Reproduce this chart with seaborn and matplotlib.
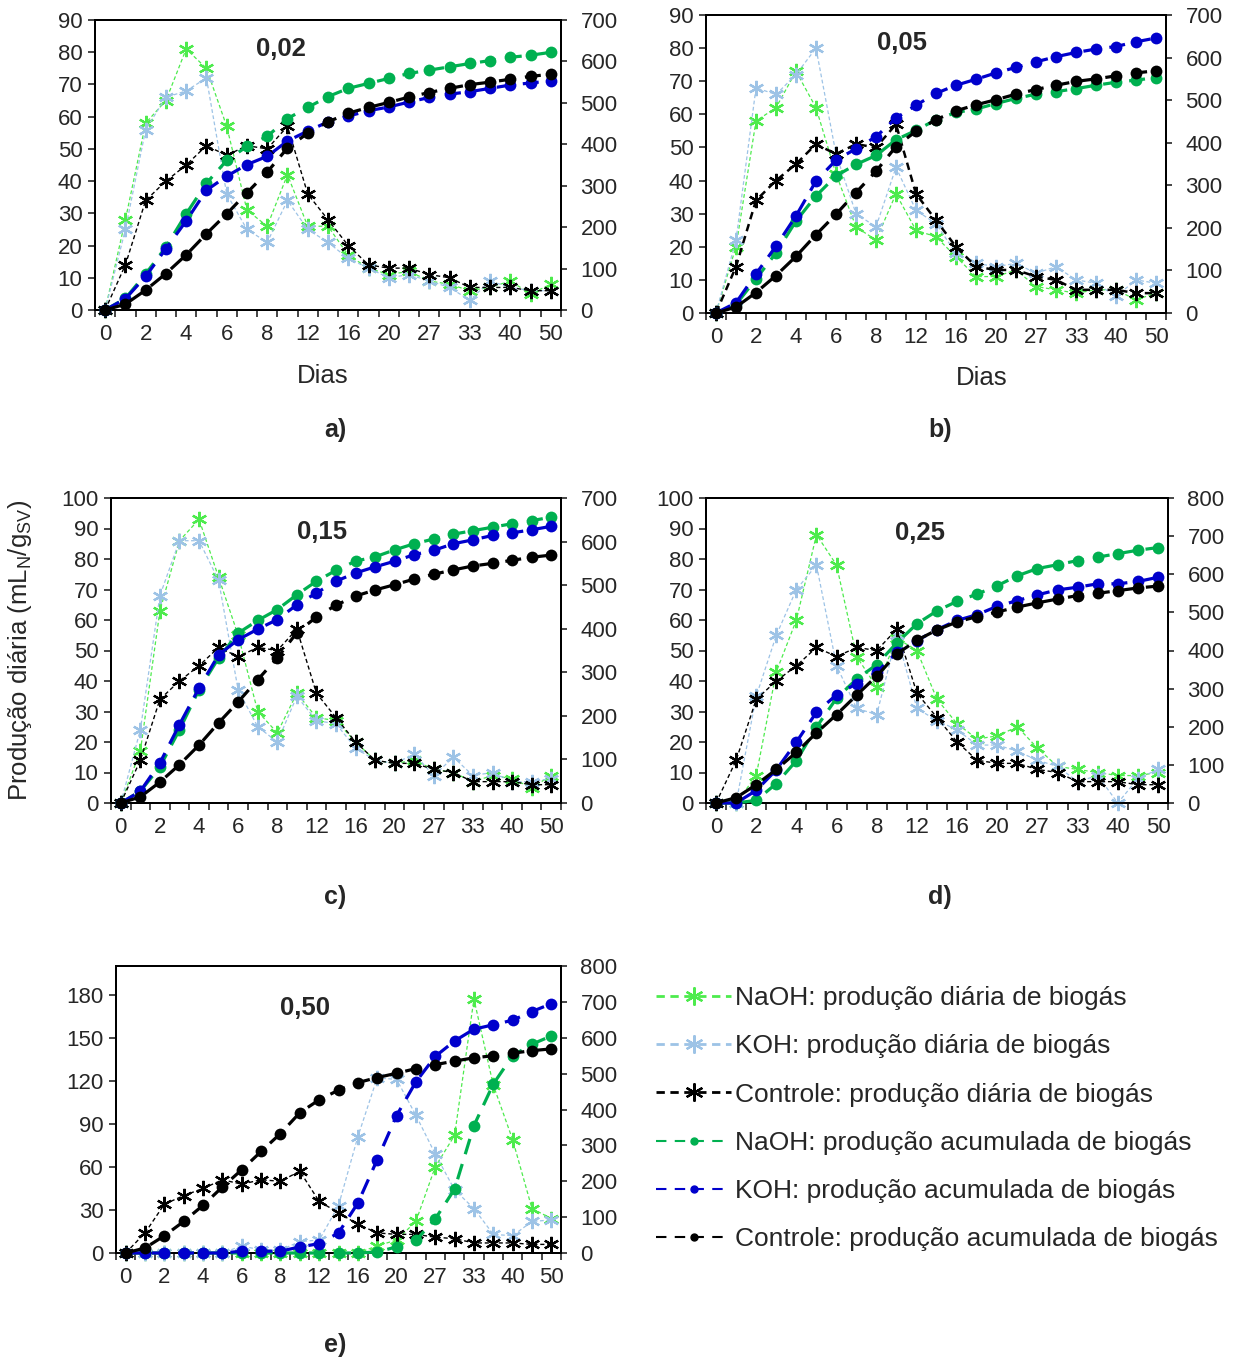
import numpy as np
import pandas as pd
import matplotlib
matplotlib.use("Agg")
import matplotlib.pyplot as plt
from matplotlib.lines import Line2D
import seaborn as sns

sns.set_style("ticks")
plt.rcParams['font.family'] = ['Liberation Sans', 'DejaVu Sans']
plt.rcParams['mathtext.fontset'] = 'custom'
plt.rcParams['mathtext.rm'] = 'Liberation Sans'

# ---------------- data ----------------
days = ['0', '1', '2', '3', '4', '5', '6', '7', '8', '10', '12', '14', '16', '18',
        '20', '23', '27', '30', '33', '36', '40', '45', '50']

ctrl_daily = [0, 14, 34, 40, 45, 51, 48, 51, 50, 57, 36, 28, 20, 14, 13, 13, 11, 10, 7, 7, 7, 6, 6]
ctrl_cum = [0, 14, 48, 88, 133, 184, 232, 283, 333, 391, 427, 454, 475, 489, 501, 514, 525, 535, 544, 550, 557, 564, 569]

naoh_daily_a = [0, 28, 58, 65, 81, 75, 57, 31, 26, 42, 26, 26, 17, 13, 11, 12, 9, 8, 6, 7, 9, 5, 8]
koh_daily_a = [0, 25, 56, 66, 68, 72, 36, 25, 21, 34, 25, 21, 16, 13, 10, 11, 9, 7, 3, 9, 7, 6, 6]
naoh_cum_a = [0, 28, 87, 152, 232, 306, 361, 395, 419, 462, 489, 515, 535, 547, 559, 571, 579, 587, 595, 602, 610, 615, 622]
koh_cum_a = [0, 27, 81, 148, 215, 289, 323, 351, 371, 408, 432, 454, 468, 481, 490, 502, 513, 521, 527, 535, 543, 548, 553]

naoh_daily_b = [0, 20, 58, 62, 73, 62, 42, 26, 22, 36, 25, 23, 17, 11, 11, 13, 8, 7, 6, 7, 7, 4, 6]
koh_daily_b = [0, 22, 68, 66, 72, 80, 48, 30, 26, 44, 31, 27, 18, 15, 14, 15, 12, 14, 10, 9, 5, 10, 9]
naoh_cum_b = [0, 20, 80, 141, 216, 275, 322, 349, 370, 407, 429, 454, 471, 479, 492, 504, 514, 520, 527, 535, 542, 547, 553]
koh_cum_b = [0, 24, 92, 157, 228, 310, 359, 386, 414, 458, 488, 516, 535, 549, 564, 577, 590, 602, 612, 620, 626, 637, 646]

naoh_daily_c = [0, 17, 63, 86, 93, 74, 55, 30, 23, 36, 28, 27, 20, 14, 13, 14, 11, 10, 7, 9, 8, 5, 9]
koh_daily_c = [0, 24, 68, 86, 86, 73, 37, 25, 20, 35, 27, 26, 18, 14, 13, 16, 9, 15, 9, 10, 7, 7, 8]
naoh_cum_c = [0, 27, 83, 168, 260, 333, 390, 419, 444, 478, 509, 534, 555, 565, 581, 595, 606, 617, 625, 633, 641, 648, 656]
koh_cum_c = [0, 27, 92, 180, 264, 340, 375, 399, 421, 455, 482, 509, 528, 542, 555, 570, 580, 595, 604, 614, 620, 627, 635]

naoh_daily_d = [0, 0, 9, 43, 60, 88, 78, 48, 38, 54, 50, 34, 26, 21, 22, 25, 18, 12, 11, 10, 9, 9, 10]
koh_daily_d = [0, 0, 35, 55, 70, 78, 45, 31, 29, 55, 31, 27, 24, 19, 19, 17, 14, 12, 7, 9, 0, 8, 11]
naoh_cum_d = [0, 0, 7, 51, 111, 199, 275, 325, 363, 420, 470, 504, 529, 548, 570, 596, 615, 625, 636, 645, 654, 663, 670]
koh_cum_d = [0, 0, 33, 87, 160, 238, 284, 313, 343, 395, 426, 455, 479, 494, 516, 531, 546, 559, 566, 575, 575, 581, 592]

naoh_daily_e = [0, 0, 0, 0, 0, 0, 0, 0, 0, 0, 0, 0, 0, 5, 9, 22, 60, 82, 177, 117, 79, 31, 24]
koh_daily_e = [0, 0, 0, 0, 0, 0, 5, 2, 2, 8, 9, 33, 81, 122, 121, 96, 69, 44, 31, 13, 12, 22, 23]
naoh_cum_e = [0, 0, 0, 0, 0, 0, 0, 0, 0, 0, 0, 0, 0, 3, 17, 35, 95, 178, 355, 471, 550, 582, 605]
koh_cum_e = [0, 0, 0, 0, 0, 0, 5, 5, 5, 17, 26, 56, 139, 260, 383, 477, 548, 591, 624, 636, 649, 673, 695]

panel_titles = ['0,02', '0,05', '0,15', '0,25', '0,50']
panel_letters = ['a)', 'b)', 'c)', 'd)', 'e)']

legend_labels = ['NaOH: produção diária de biogás',
                 'KOH: produção diária de biogás',
                 'Controle: produção diária de biogás',
                 'NaOH: produção acumulada de biogás',
                 'KOH: produção acumulada de biogás',
                 'Controle: produção acumulada de biogás']

# ---------------- styles ----------------
C_NAOH_D = '#4DEB4D'
C_KOH_D = '#9DC3E6'
C_CTRL = '#000000'
C_NAOH_C = '#00B050'
C_KOH_C = '#0000CC'
STAR = (6, 2, 0)
TICK_FS = 16

W, H = 1234, 1360
fig = plt.figure(figsize=(W / 100, H / 100), dpi=100)


def fbox(l, r, t, b):
    return [l / W, 1 - b / H, (r - l) / W, (b - t) / H]


boxes = [fbox(95, 561, 20, 310), fbox(706, 1166, 15, 313), fbox(111, 561, 498, 803),
         fbox(706, 1168, 498, 803), fbox(116, 561, 966, 1253)]
left_lims = [(90, 90, 10), (90, 90, 10), (100, 100, 10), (100, 100, 10), (200, 180, 30)]
right_lims = [(700, 100), (700, 100), (700, 100), (800, 100), (800, 100)]
title_pos = [(0.40, 0.90), (0.426, 0.905), (0.47, 0.89), (0.463, 0.885), (0.425, 0.853)]
ctrl_lw = [1.0, 1.8, 1.0, 1.0, 1.0]

panels = [
    (naoh_daily_a, koh_daily_a, naoh_cum_a, koh_cum_a),
    (naoh_daily_b, koh_daily_b, naoh_cum_b, koh_cum_b),
    (naoh_daily_c, koh_daily_c, naoh_cum_c, koh_cum_c),
    (naoh_daily_d, koh_daily_d, naoh_cum_d, koh_cum_d),
    (naoh_daily_e, koh_daily_e, naoh_cum_e, koh_cum_e),
]

pos = np.arange(len(days))

for i, (nd, kd, nc, kc) in enumerate(panels):
    ax = fig.add_axes(boxes[i])
    ax2 = ax.twinx()
    df = pd.DataFrame({'pos': pos, 'naoh_d': nd, 'koh_d': kd, 'ctrl_d': ctrl_daily,
                       'naoh_c': nc, 'koh_c': kc, 'ctrl_c': ctrl_cum})
    # daily (left axis)
    for col, color, lw in [('naoh_d', C_NAOH_D, 0.9), ('koh_d', C_KOH_D, 0.9), ('ctrl_d', C_CTRL, ctrl_lw[i])]:
        sns.lineplot(data=df, x='pos', y=col, ax=ax, color=color, linewidth=lw,
                     linestyle=(0, (3, 2)), marker=STAR, markersize=11,
                     markeredgewidth=1.6, markeredgecolor=color, markerfacecolor=color,
                     clip_on=False, zorder=3)
    # cumulative (right axis)
    for col, color in [('naoh_c', C_NAOH_C), ('koh_c', C_KOH_C), ('ctrl_c', C_CTRL)]:
        sns.lineplot(data=df, x='pos', y=col, ax=ax2, color=color, linewidth=2.3,
                     linestyle=(0, (5, 3.2)), marker='o', markersize=8.5,
                     markeredgewidth=0, markerfacecolor=color, clip_on=False, zorder=3)

    top, tmax, st = left_lims[i]
    ax.set_ylim(0, top)
    ax.set_yticks(np.arange(0, tmax + 1, st))
    rtop, rst = right_lims[i]
    ax2.set_ylim(0, rtop)
    ax2.set_yticks(np.arange(0, rtop + 1, rst))
    ax.set_xlim(-0.5, len(days) - 0.5)
    ax.set_xticks(pos[::2])
    ax.set_xticklabels(days[::2])
    ax.set_xticks(np.arange(-0.5, len(days), 1.0), minor=True)
    ax.tick_params(axis='x', which='major', length=0, labelsize=TICK_FS, pad=10)
    ax.tick_params(axis='x', which='minor', length=5, width=1.2, direction='out')
    ax.tick_params(axis='y', length=5, width=1.2, direction='out', labelsize=TICK_FS, pad=4)
    ax2.tick_params(axis='y', length=4, width=1.2, direction='out', labelsize=TICK_FS, pad=10)
    ax.set_xlabel('')
    ax.set_ylabel('')
    ax2.set_ylabel('')
    for a in (ax, ax2):
        for s in a.spines.values():
            s.set_visible(True)
            s.set_linewidth(1.4)
            s.set_color('black')
    tx, ty = title_pos[i]
    ax.text(tx, ty, panel_titles[i], transform=ax.transAxes, ha='center', va='center',
            fontsize=18.5, fontweight='bold')
    if i == 2:
        ax.set_ylabel('Produção diária (mL$_{\\mathregular{N}}$/g$_{\\mathregular{SV}}$)',
                      fontsize=18.5)
        ax.yaxis.set_label_coords((34 - 111) / 450, 0.5)

# "Dias" labels and panel letters
fig.text(323 / W, 1 - 376 / H, 'Dias', ha='center', va='center', fontsize=18.5)
fig.text(982 / W, 1 - 378 / H, 'Dias', ha='center', va='center', fontsize=18.5)
for lbl, (x, y) in zip(panel_letters, [(335, 430), (940, 430), (335, 897), (940, 897), (335, 1345)]):
    fig.text(x / W, 1 - y / H, lbl, ha='center', va='center', fontsize=18, fontweight='bold')

# legend
handles = [
    Line2D([], [], color=C_NAOH_D, lw=2, linestyle=(0, (3, 2)), marker=STAR, markersize=13,
           markeredgewidth=1.6),
    Line2D([], [], color=C_KOH_D, lw=2, linestyle=(0, (3, 2)), marker=STAR, markersize=13,
           markeredgewidth=1.6),
    Line2D([], [], color=C_CTRL, lw=2, linestyle=(0, (3, 2)), marker=STAR, markersize=13,
           markeredgewidth=1.6),
    Line2D([], [], color=C_NAOH_C, lw=1.5, linestyle=(0, (5, 4)), marker='o', markersize=5),
    Line2D([], [], color=C_KOH_C, lw=1.5, linestyle=(0, (5, 4)), marker='o', markersize=5),
    Line2D([], [], color=C_CTRL, lw=1.5, linestyle=(0, (5, 4)), marker='o', markersize=5),
]
fig.legend(handles, legend_labels, loc='upper left', bbox_to_anchor=(656 / W, 1 - 986 / H),
           frameon=False, fontsize=19, handlelength=2.85, handletextpad=0.15,
           labelspacing=0.92, borderaxespad=0, borderpad=0)

fig.savefig('out.png', dpi=100)
